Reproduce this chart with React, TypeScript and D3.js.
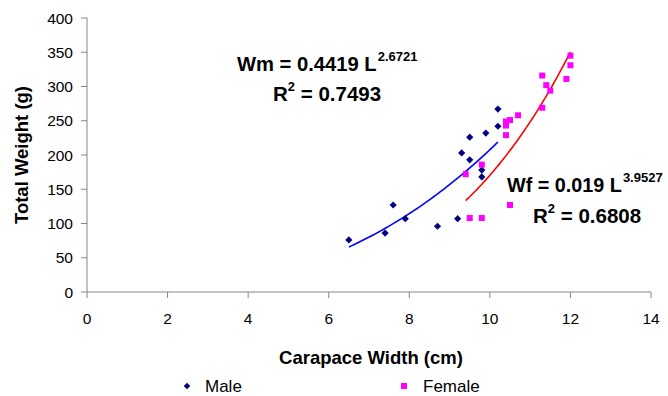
import React from "react";
import * as d3 from "d3";

// Male crabs: carapace width (cm) and total weight (g)
const maleWidth = [6.5, 7.4, 7.6, 7.9, 8.7, 9.2, 9.3, 9.5, 9.5, 9.9, 9.8, 9.8, 10.2, 10.2];
const maleWeight = [76, 86, 127, 107, 96, 107, 203, 193, 226, 232, 178, 168, 267, 242];

// Female crabs
const femaleWidth = [9.4, 9.8, 9.5, 9.8, 10.5, 10.4, 10.4, 10.4, 10.5, 10.7, 11.3, 11.3, 11.4, 11.5, 11.9, 12.0, 12.0];
const femaleWeight = [172, 186, 108, 108, 127, 229, 243, 249, 251, 258, 269, 316, 302, 294, 311, 331, 345];

// Power trendlines W = a * L^b, as printed on the chart
const maleFit = { a: 0.4419, b: 2.6721, from: 6.5, to: 10.2 };
const femaleFit = { a: 0.019, b: 3.9527, from: 9.4, to: 12.0 };

const xTicks = [0, 2, 4, 6, 8, 10, 12, 14];
const yTicks = [0, 50, 100, 150, 200, 250, 300, 350, 400];

const W = 668;
const H = 396;
const font = "Arial, 'Liberation Sans', sans-serif";

const App = () => {
    const x = d3.scaleLinear().domain([0, 14]).range([87, 651]);
    const y = d3.scaleLinear().domain([0, 400]).range([292, 18]);

    const fitPath = (fit) => {
        const xs = d3.range(0, 61).map(i => fit.from + (fit.to - fit.from) * i / 60);
        return d3.line()
            .x(v => x(v))
            .y(v => y(fit.a * Math.pow(v, fit.b)))(xs);
    };

    const diamond = (cx, cy, r) => `M${cx},${cy - r}L${cx + r},${cy}L${cx},${cy + r}L${cx - r},${cy}Z`;
    const axisColor = "#868686";

    return (
        <div style={{ position: "absolute", left: 0, top: 0 }}>
            <svg width={W} height={H} style={{ display: "block", background: "#fff" }} fontFamily={font}>
                {/* axes */}
                <line x1={x(0)} x2={x(0)} y1={y(400)} y2={y(0)} stroke={axisColor} />
                <line x1={x(0)} x2={x(14)} y1={y(0)} y2={y(0)} stroke={axisColor} />
                {yTicks.map(t => (
                    <g key={"y" + t}>
                        <line x1={x(0) - 6} x2={x(0)} y1={y(t)} y2={y(t)} stroke={axisColor} />
                        <text x={x(0) - 14} y={y(t)} dy="0.36em" textAnchor="end" fontSize={15.5}>{t}</text>
                    </g>
                ))}
                {xTicks.map(t => (
                    <g key={"x" + t}>
                        <line x1={x(t)} x2={x(t)} y1={y(0)} y2={y(0) + 6} stroke={axisColor} />
                        <text x={x(t)} y={y(0) + 32} textAnchor="middle" fontSize={15.5}>{t}</text>
                    </g>
                ))}

                {/* axis titles */}
                <text transform={`translate(28,155) rotate(-90)`} textAnchor="middle" fontSize={18.5} fontWeight="bold">Total Weight (g)</text>
                <text x={371} y={364} textAnchor="middle" fontSize={18.5} fontWeight="bold">Carapace Width (cm)</text>

                {/* trendlines */}
                <path d={fitPath(maleFit)} fill="none" stroke="#0000ff" strokeWidth={1.6} />
                <path d={fitPath(femaleFit)} fill="none" stroke="#ff0000" strokeWidth={1.6} />

                {/* points */}
                {maleWidth.map((v, i) => (
                    <path key={"m" + i} d={diamond(x(v), y(maleWeight[i]), 3.6)} fill="#000080" />
                ))}
                {femaleWidth.map((v, i) => (
                    <rect key={"f" + i} x={x(v) - 3} y={y(femaleWeight[i]) - 3} width={6} height={6} fill="#ff00ff" />
                ))}

                {/* equations */}
                <text x={237} y={71} fontSize={20.2} fontWeight="bold">
                    Wm = 0.4419 L<tspan dx={1} dy={-10.5} fontSize={13}>2.6721</tspan>
                </text>
                <text x={273} y={101} fontSize={20.5} fontWeight="bold">
                    R<tspan dy={-10.5} fontSize={13}>2</tspan><tspan dy={10.5}> = 0.7493</tspan>
                </text>
                <text x={507} y={192} fontSize={19.8} fontWeight="bold">
                    Wf = 0.019 L<tspan dx={1} dy={-10.5} fontSize={13}>3.9527</tspan>
                </text>
                <text x={533} y={223} fontSize={20.5} fontWeight="bold">
                    R<tspan dy={-10.5} fontSize={13}>2</tspan><tspan dy={10.5}> = 0.6808</tspan>
                </text>

                {/* legend */}
                <path d={diamond(187, 386, 3.3)} fill="#000080" />
                <text x={205} y={392} fontSize={17}>Male</text>
                <rect x={401} y={383} width={6} height={6} fill="#ff00ff" />
                <text x={423} y={392} fontSize={17}>Female</text>
            </svg>
        </div>
    );
};

export default App;
